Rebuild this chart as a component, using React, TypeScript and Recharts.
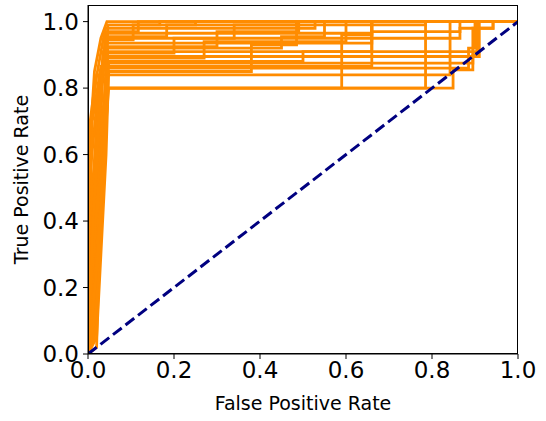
import { LineChart, Line, XAxis, YAxis } from 'recharts';

type Pt = { x: number; y: number };

const ticks = [0, 0.2, 0.4, 0.6, 0.8, 1.0];

// ROC curves, as [fpr, tpr] pairs
const rocCurves: number[][][] = [
  [[0, 0], [0.003, 0.6], [0.015, 0.85], [0.03, 0.95], [0.044, 1], [1, 1]],
  [[0, 0], [0.02, 0.02], [0.03, 0.5], [0.042, 0.8], [0.046, 0.99], [0.485, 0.99], [0.485, 1], [1, 1]],
  [[0, 0], [0.002, 0.67], [0.015, 0.8], [0.04, 0.98], [0.528, 0.98], [0.528, 1], [1, 1]],
  [[0, 0], [0.01, 0.1], [0.025, 0.6], [0.04, 0.965], [0.66, 0.965], [0.66, 1], [1, 1]],
  [[0, 0], [0.005, 0.3], [0.02, 0.7], [0.045, 0.95], [0.865, 0.95], [0.865, 0.98], [0.942, 0.98], [0.942, 1], [1, 1]],
  [[0, 0], [0.015, 0.05], [0.035, 0.6], [0.045, 0.945], [0.105, 0.945], [0.105, 0.99], [0.167, 0.99], [0.167, 1], [1, 1]],
  [[0, 0], [0.002, 0.5], [0.02, 0.75], [0.04, 0.935], [0.59, 0.935], [0.59, 0.96], [0.66, 0.96], [0.66, 1], [1, 1]],
  [[0, 0], [0.02, 0.1], [0.04, 0.67], [0.045, 0.925], [0.3, 0.925], [0.3, 0.97], [0.49, 0.97], [0.49, 1], [1, 1]],
  [[0, 0], [0.008, 0.2], [0.02, 0.6], [0.035, 0.91], [0.905, 0.91], [0.905, 1], [1, 1]],
  [[0, 0], [0.018, 0.3], [0.04, 0.75], [0.045, 0.905], [0.2, 0.905], [0.2, 0.95], [0.34, 0.95], [0.34, 0.99], [0.785, 0.99], [0.785, 1], [1, 1]],
  [[0, 0], [0.004, 0.4], [0.025, 0.75], [0.04, 0.895], [0.91, 0.895], [0.91, 1], [1, 1]],
  [[0, 0], [0.02, 0.2], [0.035, 0.65], [0.045, 0.89], [0.27, 0.89], [0.27, 0.94], [0.6, 0.94], [0.6, 1], [1, 1]],
  [[0, 0], [0.012, 0.15], [0.03, 0.6], [0.045, 0.875], [0.895, 0.875], [0.895, 0.9], [0.905, 0.9], [0.905, 1], [1, 1]],
  [[0, 0], [0.002, 0.3], [0.01, 0.7], [0.03, 0.865], [0.66, 0.865], [0.66, 1], [1, 1]],
  [[0, 0], [0.015, 0.1], [0.03, 0.55], [0.045, 0.86], [0.885, 0.86], [0.885, 0.92], [0.9, 0.92], [0.9, 1], [1, 1]],
  [[0, 0], [0.02, 0.05], [0.042, 0.6], [0.048, 0.85], [0.38, 0.85], [0.38, 0.93], [0.485, 0.93], [0.485, 1], [1, 1]],
  [[0, 0], [0.006, 0.2], [0.025, 0.6], [0.04, 0.8], [0.59, 0.8], [0.59, 0.935], [0.66, 0.935], [0.66, 1], [1, 1]],
  [[0, 0], [0.02, 0.15], [0.04, 0.67], [0.048, 0.8], [0.785, 0.8], [0.785, 1], [1, 1]],
  [[0, 0], [0.01, 0.25], [0.035, 0.7], [0.045, 0.8], [0.849, 0.8], [0.849, 0.855], [0.895, 0.855], [0.895, 0.98], [0.942, 0.98], [0.942, 1], [1, 1]],
  [[0, 0], [0.003, 0.65], [0.02, 0.84], [0.842, 0.84], [0.842, 1], [1, 1]],
  [[0, 0], [0.02, 0.3], [0.038, 0.75], [0.045, 0.97], [0.117, 0.97], [0.117, 1], [1, 1]],
  [[0, 0], [0.012, 0.4], [0.03, 0.8], [0.045, 0.955], [0.183, 0.955], [0.183, 0.99], [0.25, 0.99], [0.25, 1], [1, 1]],
  [[0, 0], [0.025, 0.35], [0.04, 0.7], [0.045, 0.92], [0.45, 0.92], [0.45, 0.955], [0.55, 0.955], [0.55, 1], [1, 1]],
  [[0, 0], [0.02, 0.25], [0.045, 0.75], [0.048, 0.88], [0.5, 0.88], [0.5, 0.91], [0.66, 0.91], [0.66, 0.97], [0.865, 0.97], [0.865, 1], [1, 1]],
];

const chanceLine: number[][] = [[0, 0], [1, 1]];

const toPts = (arr: number[][]): Pt[] => arr.map(([x, y]) => ({ x, y }));

const FONT = 'DejaVu Sans, sans-serif';

export default function App() {
  return (
    <div style={{ position: 'absolute', left: 0, top: 0, width: 546, height: 421, background: '#fff' }}>
      <LineChart width={546} height={421} margin={{ top: 5, right: 28, bottom: 0, left: 0 }}>
        <XAxis
          dataKey="x"
          type="number"
          domain={[0, 1]}
          ticks={ticks}
          tickFormatter={(v: number) => v.toFixed(1)}
          allowDataOverflow
          height={67}
          stroke="#000"
          tickSize={5}
          tickMargin={3}
          tick={{ fill: '#000', fontSize: 23, fontFamily: FONT }}
          label={{ value: 'False Positive Rate', position: 'insideBottom', offset: 11, fill: '#000', fontSize: 19, fontFamily: FONT }}
        />
        <YAxis
          type="number"
          domain={[0, 1.05]}
          ticks={ticks}
          tickFormatter={(v: number) => v.toFixed(1)}
          allowDataOverflow
          width={88}
          stroke="#000"
          tickSize={5}
          tickMargin={4}
          tick={{ fill: '#000', fontSize: 23, fontFamily: FONT }}
          label={{ value: 'True Positive Rate', angle: -90, position: 'insideLeft', offset: 21, fill: '#000', fontSize: 19, fontFamily: FONT, style: { textAnchor: 'middle' } }}
        />
        {rocCurves.map((c, i) => (
          <Line
            key={`roc-${i}`}
            data={toPts(c)}
            dataKey="y"
            type="linear"
            stroke="#ff8c00"
            strokeWidth={2.8}
            dot={false}
            activeDot={false}
            isAnimationActive={false}
          />
        ))}
        <Line
          data={toPts(chanceLine)}
          dataKey="y"
          type="linear"
          stroke="#000080"
          strokeWidth={3}
          strokeDasharray="11 4.8"
          dot={false}
          activeDot={false}
          isAnimationActive={false}
        />
      </LineChart>
      <div
        style={{
          position: 'absolute',
          left: 88,
          top: 5,
          width: 430,
          height: 349,
          border: '1px solid #000',
          boxSizing: 'border-box',
          pointerEvents: 'none',
        }}
      />
    </div>
  );
}
